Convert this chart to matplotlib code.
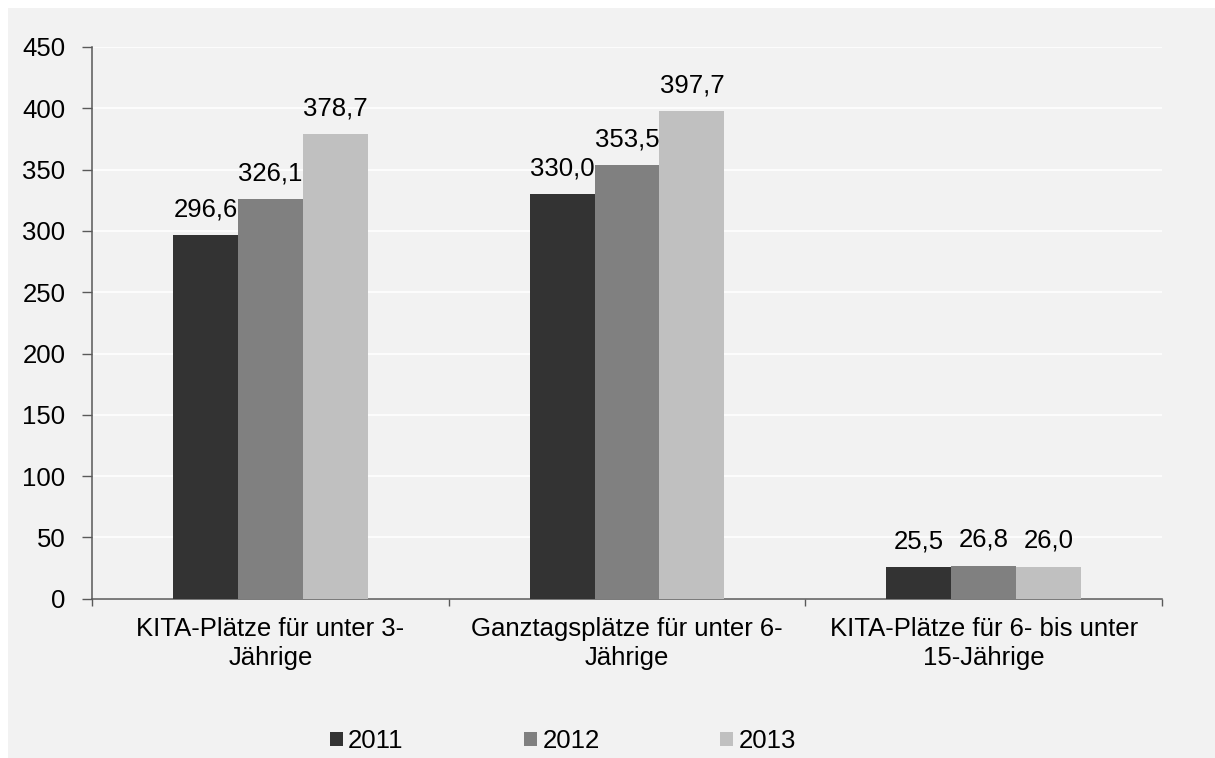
import matplotlib
matplotlib.use("Agg")
import matplotlib.pyplot as plt
from matplotlib.patches import Rectangle
import numpy as np

plt.rcParams['font.family'] = ['Liberation Sans', 'DejaVu Sans']

categories = ["KITA-Plätze für unter 3-\nJährige",
              "Ganztagsplätze für unter 6-\nJährige",
              "KITA-Plätze für 6- bis unter\n15-Jährige"]
years = ["2011", "2012", "2013"]
values_2011 = [296.6, 330.0, 25.5]
values_2012 = [326.1, 353.5, 26.8]
values_2013 = [378.7, 397.7, 26.0]
series = [values_2011, values_2012, values_2013]
colors = ["#333333", "#808080", "#c0c0c0"]
yticks = [0, 50, 100, 150, 200, 250, 300, 350, 400, 450]

W, H = 1215, 758
BG = "#f2f2f2"
FS = 18.5

fig = plt.figure(figsize=(W / 100, H / 100), dpi=100, facecolor="white")
bgrect = Rectangle((8 / W, 0), 1 - 8 / W, 1 - 8 / H, transform=fig.transFigure,
                   facecolor=BG, edgecolor="none", zorder=-10)
fig.patches.append(bgrect)

ax = fig.add_axes([92 / W, 1 - 598.7 / H, (1162 - 92) / W, (598.7 - 47) / H])
ax.set_zorder(1)
ax.set_facecolor(BG)

x = np.arange(len(categories))
bw = 0.182
for i, (vals, col, yr) in enumerate(zip(series, colors, years)):
    pos = x + (i - 1) * bw
    bars = ax.bar(pos, vals, width=bw, color=col, label=yr, zorder=3)
    for b, v in zip(bars, vals):
        ax.annotate(f"{v:.1f}".replace(".", ","), (b.get_x() + b.get_width() / 2, v),
                    xytext=(0, 10), textcoords="offset points", ha="center", va="bottom",
                    fontsize=FS, color="black", zorder=4)

ax.set_xlim(-0.5, 2.5)
ax.set_ylim(0, 450)
ax.set_yticks(yticks)
ax.set_yticklabels([str(t) for t in yticks])
ax.grid(axis="y", color="white", linewidth=1.2, zorder=1)
ax.set_axisbelow(True)

ax.set_xticks([-0.5, 0.5, 1.5, 2.5])
ax.set_xticklabels([])
ax.set_xticks(x, minor=True)
ax.set_xticklabels(categories, minor=True, fontsize=FS, linespacing=1.3)
ax.tick_params(axis="x", which="major", length=5, width=1, color="#595959", direction="out")
ax.tick_params(axis="x", which="minor", length=0, pad=13)
ax.tick_params(axis="y", length=7, width=1, color="#595959", direction="out", pad=12, labelsize=FS)

for s in ["top", "right"]:
    ax.spines[s].set_visible(False)
for s in ["left", "bottom"]:
    ax.spines[s].set_color("#595959")
    ax.spines[s].set_linewidth(1.1)

fig.legend(loc="center", bbox_to_anchor=(563 / W, 1 - 741 / H), ncol=3, frameon=False,
           fontsize=FS, handlelength=0.5, handleheight=0.5, handletextpad=0.2,
           columnspacing=4.7)

fig.savefig("out.png", dpi=100, facecolor="white")
